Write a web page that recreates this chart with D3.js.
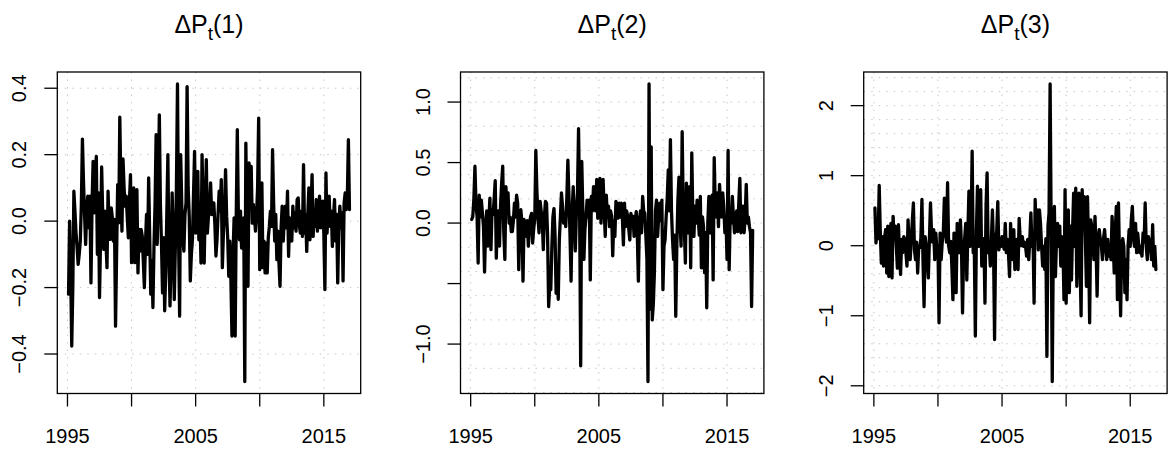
<html lang="en">
<head>
<meta charset="utf-8">
<title>Delta P panels</title>
<script src="https://cdnjs.cloudflare.com/ajax/libs/d3/7.8.5/d3.min.js"></script>
<style>
  body { margin: 0; background: white; }
  svg { display: block; background: white; }
  text { font-family: "Liberation Sans", Arial, Helvetica, sans-serif; fill: black; }
  .grid line { stroke: #c8c8c8; stroke-width: 1; stroke-dasharray: 1.5 6; }
  .series { fill: none; stroke: black; stroke-width: 3.3; stroke-linejoin: round; stroke-linecap: round; }
  .frame { fill: none; stroke: black; stroke-width: 1.3; }
  .tick { stroke: black; stroke-width: 1.3; }
</style>
</head>
<body>
<script>
// monthly changes, Feb 1995 .. Jan 2017 (one row per year)
var dp1 = [
  -0.22, 0.00, -0.15, -0.376, -0.20, 0.09, 0.03, -0.035, -0.08, -0.13, -0.10, -0.06,
  0.05, 0.247, 0.12, 0.02, -0.07, 0.03, 0.075, -0.02, 0.075, -0.186, 0.05, 0.18,
  0.025, 0.12, 0.195, -0.10, 0.085, -0.23, -0.05, 0.163, 0.02, -0.085, 0.03, -0.06,
  -0.14, 0.09, -0.015, -0.055, 0.04, 0.01, -0.06, 0.005, -0.316, -0.10, 0.11, -0.005,
  0.313, 0.10, -0.03, 0.187, 0.10, 0.045, 0.075, 0.01, -0.05, 0.06, 0.14, -0.125,
  0.02, 0.10, -0.125, 0.03, 0.095, -0.156, -0.025, -0.09, -0.025, -0.045, -0.12, -0.20,
  -0.07, 0.02, -0.10, 0.13, -0.05, -0.22, -0.12, -0.26, -0.075, 0.05, 0.26, -0.07,
  0.10, 0.32, 0.05, -0.066, -0.216, -0.05, -0.27, -0.155, 0.02, 0.20, -0.10, -0.255,
  -0.116, 0.085, -0.05, -0.236, -0.076, 0.10, 0.413, -0.05, -0.286, 0.20, 0.05, -0.056,
  -0.09, 0.02, 0.055, 0.405, 0.10, 0.015, -0.18, -0.10, -0.056, 0.08, 0.21, -0.036,
  0.06, 0.15, -0.056, 0.02, -0.126, 0.20, 0.03, -0.126, 0.05, 0.185, -0.036, 0.015,
  0.04, 0.115, 0.02, 0.055, 0.055, -0.01, -0.105, -0.056, 0.02, 0.09, 0.03, 0.125,
  -0.14, -0.036, 0.04, 0.155, 0.015, -0.05, -0.166, -0.06, -0.176, -0.346, -0.10, 0.01,
  -0.346, 0.015, 0.275, 0.02, -0.056, 0.03, -0.081, -0.03, 0.01, -0.483, 0.235, -0.05,
  -0.196, 0.175, 0.08, 0.165, -0.006, 0.05, 0.015, -0.03, 0.015, 0.10, 0.31, -0.146,
  -0.05, 0.115, -0.14, -0.06, -0.156, -0.066, -0.156, -0.05, -0.016, 0.03, -0.016, 0.215,
  0.055, -0.06, 0.02, -0.116, -0.03, -0.126, -0.196, -0.02, 0.045, -0.06, 0.01, 0.045,
  -0.02, 0.09, -0.106, 0.01, -0.03, -0.06, 0.045, -0.02, 0.025, -0.03, 0.065, 0.07,
  -0.01, -0.036, 0.03, -0.046, 0.17, -0.036, 0.02, -0.091, 0.02, 0.10, -0.056, 0.04,
  0.14, -0.046, 0.03, -0.016, 0.065, -0.03, 0.015, 0.075, -0.02, 0.02, 0.06, -0.036,
  -0.206, 0.145, -0.036, 0.03, 0.075, -0.016, 0.03, -0.076, 0.01, 0.065, -0.06, 0.02,
  -0.186, -0.016, 0.045, -0.02, 0.025, -0.18, 0.055, 0.085, 0.035, 0.07, 0.245, 0.035
];

var dp2 = [
  0.03, 0.055, 0.20, 0.47, 0.15, 0.055, -0.33, 0.23, 0.05, 0.19, 0.08, -0.03,
  -0.405, -0.04, 0.10, -0.19, 0.02, 0.205, -0.22, 0.11, 0.07, 0.20, 0.35, -0.29,
  0.055, 0.10, -0.19, 0.15, 0.33, 0.47, -0.08, -0.30, 0.30, 0.10, 0.25, 0.00,
  0.05, -0.07, -0.07, 0.02, 0.165, 0.05, 0.23, 0.165, -0.385, 0.00, 0.11, 0.00,
  -0.48, 0.03, -0.05, -0.11, 0.02, -0.19, -0.03, 0.05, 0.08, -0.165, -0.05, 0.03,
  0.60, 0.27, 0.05, -0.08, 0.18, 0.10, 0.03, -0.22, 0.05, 0.18, 0.165, -0.10,
  -0.69, -0.52, -0.55, -0.20, 0.05, 0.12, -0.10, -0.58, -0.40, -0.63, -0.14, 0.05,
  0.25, 0.14, 0.00, 0.07, -0.03, 0.20, 0.52, 0.22, -0.10, -0.48, 0.10, 0.30,
  0.03, -0.23, 0.10, 0.25, 0.78, 0.10, -1.18, 0.51, 0.10, -0.30, -0.05, 0.055,
  0.19, 0.05, 0.19, -0.47, 0.22, 0.10, 0.30, 0.25, 0.10, 0.36, 0.04, 0.20,
  0.37, 0.00, 0.20, 0.36, 0.10, -0.11, 0.23, 0.05, 0.14, -0.03, 0.10, 0.055,
  -0.27, 0.02, -0.11, 0.18, 0.10, 0.04, 0.165, 0.05, 0.165, 0.05, -0.18, 0.165,
  -0.03, 0.10, 0.055, -0.05, -0.14, 0.08, 0.00, 0.055, -0.11, 0.02, 0.095, -0.10,
  -0.48, 0.03, 0.10, -0.08, 0.22, 0.10, 0.08, -0.10, -0.30, -1.31, 1.15, -0.71,
  0.63, -0.80, -0.67, -0.41, 0.10, 0.19, -0.11, 0.05, 0.165, 0.02, 0.19, -0.55,
  -0.19, -0.14, 0.05, 0.20, 0.44, 0.10, 0.69, 0.10, -0.14, -0.30, -0.10, -0.77,
  -0.19, 0.19, 0.38, 0.00, -0.19, 0.755, 0.10, -0.03, -0.33, 0.33, 0.10, -0.08,
  0.30, -0.37, 0.58, 0.05, -0.11, 0.14, 0.00, 0.19, 0.05, -0.10, 0.22, -0.37,
  0.05, -0.03, -0.41, -0.08, -0.70, 0.00, 0.22, -0.08, 0.05, 0.23, -0.47, 0.54,
  0.14, 0.05, 0.25, -0.03, 0.32, 0.14, 0.05, 0.25, 0.12, -0.08, 0.05, -0.30,
  0.60, -0.385, 0.08, 0.00, 0.22, 0.05, -0.08, 0.00, 0.10, -0.07, 0.165, 0.37,
  -0.08, 0.05, 0.14, -0.08, 0.05, 0.32, 0.00, 0.05, -0.03, -0.08, -0.69, -0.06
];

var dp3 = [
  0.54, 0.04, 0.30, 0.10, 0.86, 0.20, -0.25, 0.13, -0.29, 0.10, 0.23, -0.39,
  0.28, -0.44, 0.00, 0.32, -0.46, 0.42, 0.09, 0.28, 0.00, -0.32, 0.30, -0.10,
  -0.41, 0.09, -0.10, 0.13, 0.09, -0.10, -0.29, 0.37, 0.00, -0.20, 0.10, 0.35,
  0.61, -0.06, -0.20, 0.05, -0.39, -0.01, -0.03, 0.10, 0.66, -0.20, -0.87, 0.13,
  0.00, -0.20, -0.46, 0.09, 0.61, 0.18, 0.05, 0.23, -0.20, 0.18, -0.05, 0.00,
  -1.10, 0.18, -0.20, 0.05, 0.18, 0.68, 0.28, 0.05, 0.90, 0.00, -0.10, 0.06,
  -0.29, -0.77, 0.18, -0.20, -0.67, 0.32, 0.05, -0.10, 0.37, 0.00, -0.96, -0.10,
  0.10, 0.32, -0.49, 0.20, 0.78, -0.01, 0.20, 1.35, -0.10, -0.01, -1.29, 0.20,
  0.85, -0.01, 0.20, 0.80, -0.29, -0.01, 0.10, -0.82, 0.56, 1.04, -0.10, 0.05,
  -0.29, 0.09, 0.51, 0.00, -1.34, 0.09, 0.20, 0.63, -0.06, 0.05, -0.01, 0.13,
  0.04, -0.05, 0.32, -0.10, 0.09, -0.10, -0.44, 0.32, 0.00, -0.20, 0.23, -0.34,
  0.00, 0.09, -0.34, 0.39, 0.09, 0.00, 0.13, -0.01, 0.05, -0.01, -0.15, 0.09,
  -0.20, 0.10, 0.47, -0.01, 0.10, -0.82, 0.66, 0.10, 0.51, -0.06, 0.51, 0.32,
  0.00, -0.29, -0.01, -0.34, 0.10, -1.58, 0.28, 0.47, 2.31, 0.20, -1.94, 0.00,
  0.56, -0.44, 0.10, 0.32, -0.01, 0.28, -0.29, 0.13, 0.00, -0.77, 0.80, -0.82,
  0.10, 0.51, -0.67, 0.28, -0.49, 0.20, 0.75, -0.01, 0.82, -0.58, 0.10, 0.75,
  -0.20, -1.00, 0.80, 0.28, 0.70, 0.10, -0.58, 0.70, 0.00, -1.10, 0.37, 0.28,
  0.10, -0.20, 0.42, -0.01, -0.72, 0.10, 0.23, 0.09, 0.00, -0.20, 0.10, 0.23,
  0.00, -0.20, 0.09, -0.15, 0.00, -0.20, 0.42, 0.10, -0.39, 0.20, 0.56, -0.77,
  0.61, -0.20, -1.00, -0.01, 0.10, -0.01, -0.67, -0.20, -0.77, 0.00, 0.23, -0.01,
  0.37, 0.56, 0.10, -0.01, 0.32, -0.10, 0.18, 0.00, -0.10, -0.01, -0.15, 0.18,
  0.05, 0.61, -0.01, -0.20, 0.13, 0.06, 0.00, -0.20, 0.30, -0.29, -0.01, -0.34
];

var panelNames = ["1", "2", "3"];
var firstMonth = 1995 + 1 / 12;

var xTickYears = [1995, 2000, 2005, 2010, 2015];
var xTickLabels = ["1995", "", "2005", "", "2015"];

var yTicks1 = [-0.4, -0.2, 0, 0.2, 0.4];
var yLabels1 = ["\u22120.4", "\u22120.2", "0.0", "0.2", "0.4"];
var yTicks2 = [-1, -0.5, 0, 0.5, 1];
var yLabels2 = ["\u22121.0", "", "0.0", "0.5", "1.0"];
var yTicks3 = [-2, -1, 0, 1, 2];
var yLabels3 = ["\u22122", "\u22121", "0", "1", "2"];

var W = 1168, H = 452;
var plotLeft = 57.3, panelStep = 403.2, plotW = 303.4;
var plotTop = 72, plotBottom = 393.5;

var svg = d3.select("body").append("svg")
  .attr("width", W)
  .attr("height", H);

var panels = [
  { name: panelNames[0], values: dp1, ticks: yTicks1, labels: yLabels1 },
  { name: panelNames[1], values: dp2, ticks: yTicks2, labels: yLabels2 },
  { name: panelNames[2], values: dp3, ticks: yTicks3, labels: yLabels3 }
];

// R style: data range padded by 4% on each side
function padded(ext) {
  var d = (ext[1] - ext[0]) * 0.04;
  return [ext[0] - d, ext[1] + d];
}

panels.forEach(function(p, k) {
  var left = plotLeft + k * panelStep;
  var rows = p.values.map(function(v, i) { return { t: firstMonth + i / 12, v: v }; });

  var x = d3.scaleLinear()
    .domain(padded(d3.extent(rows, function(d) { return d.t; })))
    .range([left, left + plotW]);
  var y = d3.scaleLinear()
    .domain(padded(d3.extent(rows, function(d) { return d.v; })))
    .range([plotBottom, plotTop]);

  var g = svg.append("g");

  // dotted grid, every 5 years and every 0.2
  var grid = g.append("g").attr("class", "grid");
  grid.selectAll("line.v")
    .data(xTickYears)
    .enter().append("line")
    .attr("class", "v")
    .attr("x1", function(d) { return x(d); })
    .attr("x2", function(d) { return x(d); })
    .attr("y1", plotTop)
    .attr("y2", plotBottom);

  var yd = y.domain();
  var gridVals = d3.range(Math.ceil(yd[0] / 0.2 - 1e-9), Math.floor(yd[1] / 0.2 + 1e-9) + 1)
    .map(function(n) { return n * 0.2; });
  grid.selectAll("line.h")
    .data(gridVals)
    .enter().append("line")
    .attr("class", "h")
    .attr("x1", left)
    .attr("x2", left + plotW)
    .attr("y1", function(d) { return y(d); })
    .attr("y2", function(d) { return y(d); });

  // the series
  var line = d3.line()
    .x(function(d) { return x(d.t); })
    .y(function(d) { return y(d.v); });
  g.append("path")
    .datum(rows)
    .attr("class", "series")
    .attr("d", line);

  g.append("rect")
    .attr("class", "frame")
    .attr("x", left)
    .attr("y", plotTop)
    .attr("width", plotW)
    .attr("height", plotBottom - plotTop);

  // x axis
  var xa = g.append("g").attr("class", "xaxis");
  xa.selectAll("line")
    .data(xTickYears)
    .enter().append("line")
    .attr("class", "tick")
    .attr("x1", function(d) { return x(d); })
    .attr("x2", function(d) { return x(d); })
    .attr("y1", plotBottom)
    .attr("y2", plotBottom + 13);
  xa.selectAll("text")
    .data(xTickYears)
    .enter().append("text")
    .attr("x", function(d) { return x(d); })
    .attr("y", 443)
    .attr("text-anchor", "middle")
    .style("font-size", "20px")
    .text(function(d, i) { return xTickLabels[i]; });

  // y axis, labels turned like R's las = 0
  var ya = g.append("g").attr("class", "yaxis");
  ya.selectAll("line")
    .data(p.ticks)
    .enter().append("line")
    .attr("class", "tick")
    .attr("x1", left - 13)
    .attr("x2", left)
    .attr("y1", function(d) { return y(d); })
    .attr("y2", function(d) { return y(d); });
  ya.selectAll("text")
    .data(p.ticks)
    .enter().append("text")
    .attr("transform", function(d) {
      return "translate(" + (left - 31) + "," + y(d) + ") rotate(-90)";
    })
    .attr("text-anchor", "middle")
    .style("font-size", "20px")
    .text(function(d, i) { return p.labels[i]; });

  // title: Delta P with subscript t
  var title = g.append("text")
    .attr("x", left + plotW / 2)
    .attr("y", 33)
    .attr("text-anchor", "middle")
    .style("font-size", "25px");
  title.append("tspan").text("\u0394P");
  title.append("tspan").attr("dy", 7).style("font-size", "19px").text("t");
  title.append("tspan").attr("dy", -7).text("(" + p.name + ")");
});
</script>
</body>
</html>
